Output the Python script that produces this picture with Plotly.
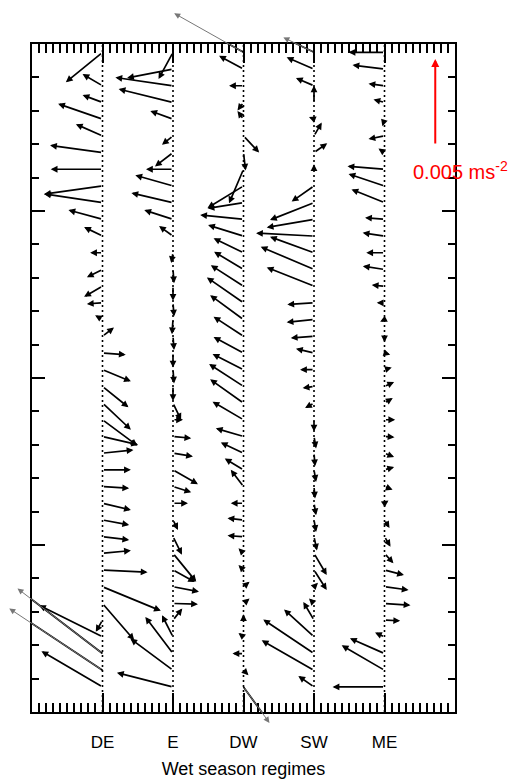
import plotly.graph_objects as go

# ---------------- data ----------------
regimes = ["DE", "E", "DW", "SW", "ME"]
# vertical levels (axis units, top level first)
levels = [39.5, 38.5, 37.5, 36.5, 35.5, 34.5, 33.5, 32.5, 31.5, 30.5,
          29.5, 28.5, 27.5, 26.5, 25.5, 24.5, 23.5, 22.5, 21.5, 20.5,
          19.5, 18.5, 17.5, 16.5, 15.5, 14.5, 13.5, 12.5, 11.5, 10.5,
          9.5, 8.5, 7.5, 6.5, 5.5, 4.5, 3.5, 2.5, 1.5, 0.5]

# zonal (u) and meridional (v) components, units 1e-3 m s^-2, top level first
u_DE = [-2.13, 0.0, -1.16, -1.16, -2.58, -1.55, -3.05, -3.01, -3.40, -3.40,
        -1.98, -1.07, -0.72, -0.91, -1.07, -0.91, -0.43, 0.67, 1.35, 1.65,
        1.51, 1.65, 2.03, 2.07, 1.80, 1.65, 1.55, 1.65, 1.55, 1.55,
        1.65, 2.62, 3.39, 1.84, -0.39, -3.69, -4.94, -5.42, -3.55, 0.0]
v_DE = [-1.74, 0.0, 0.68, 0.43, 0.89, 0.68, 0.42, 0.0, -0.48, 0.51,
        0.54, 0.52, 0.0, -0.45, -0.62, -0.06, 0.25, 0.51, -0.10, -0.68,
        -1.22, -1.55, -1.51, -0.48, 0.19, 0.0, -0.10, -0.39, -0.29, -0.19,
        0.16, -0.13, -1.40, -2.13, -0.68, 1.84, 3.78, 3.59, 2.08, 0.0]

u_E = [-0.84, -2.67, -3.35, -3.16, -1.32, -0.64, -1.05, -1.57, -2.19, -2.42,
       -1.67, -0.81, -0.10, 0.06, 0.00, 0.06, -0.06, 0.06, 0.00, 0.06,
       0.00, 0.47, 0.58, 1.06, 1.16, 1.45, 1.06, 0.87, 0.29, 0.52,
       1.35, 1.28, 1.51, 1.45, 0.54, -0.64, -1.61, -2.48, -3.26, 0.0]
v_E = [-1.55, -0.52, 0.48, 0.78, 0.48, -0.52, -0.81, 0.0, 0.62, 0.56,
       0.54, 0.58, -0.60, -0.80, -0.85, -0.80, -0.85, -0.80, -0.85, -0.80,
       -0.85, -0.99, 0.0, -0.10, -0.19, -0.83, -0.33, 0.0, -0.58, -1.05,
       -1.65, -0.70, -0.29, -0.04, 0.68, 1.26, 2.13, 1.84, 0.83, 0.0]

u_DW = [-4.03, -1.42, -0.84, -0.35, -0.35, 0.91, 0.12, -0.84, -2.09, -2.09,
        -2.52, -2.06, -1.74, -1.71, -1.90, -2.13, -1.94, -1.74, -1.74, -1.80,
        -2.00, -1.94, -1.80, -1.61, -1.32, -1.09, -0.74, -0.74, -0.93, -0.93,
        -0.29, -0.29, 0.35, 0.35, 0.0, -0.29, -0.64, 0.29, 1.51, 0.0]
v_DW = [2.27, 0.77, 0.0, -0.47, 0.47, -0.97, -1.05, -1.98, -1.28, -0.33,
        0.26, 0.64, 0.84, 1.03, 1.22, 1.48, 1.42, 1.14, 0.93, 0.91,
        1.30, 1.38, 1.05, 0.47, 0.62, 0.66, 0.97, 0.0, 0.10, 0.06,
        0.29, 0.29, 0.29, 0.29, 0.35, 0.23, 0.0, -0.29, -2.09, 0.0]

u_SW = [-1.78, -1.59, -1.05, 0.0, -0.29, 0.45, 0.77, 0.0, -1.30, -2.56,
        -2.75, -3.37, -2.56, -3.10, -2.75, -1.55, -1.59, -1.35, -1.05, -0.81,
        -0.66, -0.52, 0.0, 0.12, 0.06, 0.12, 0.06, 0.12, 0.12, 0.17,
        0.74, 0.74, 0.23, -0.29, -0.62, -1.74, -2.95, -3.04, -0.91, 0.0]
v_SW = [0.87, 0.68, 0.45, 0.99, 0.12, 0.77, 0.54, 0.29, -0.91, -1.01,
        -0.47, 0.17, 0.93, 1.32, 1.09, -0.10, -0.16, -0.10, 0.25, 0.0,
        -0.10, -0.29, -0.68, -0.70, -0.76, -0.70, -0.70, -0.70, -0.70, -0.81,
        -1.26, -1.16, 0.23, 0.29, 1.06, 1.59, 1.98, 1.74, 0.64, 0.0]

u_ME = [-2.09, -1.86, -0.93, -0.64, -0.12, -0.93, -0.35, -2.15, -2.09, -1.92,
        -1.13, -1.27, -1.06, -1.26, -0.74, -0.45, -0.25, 0.0, 0.33, 0.42,
        0.56, 0.48, 0.62, 0.58, 0.56, 0.56, 0.47, 0.23, 0.29, 0.35,
        0.52, 1.13, 1.40, 1.51, 0.91, -0.55, -2.01, -2.49, -3.02, 0.0]
v_ME = [0.0, 0.23, 0.12, 0.17, -0.41, -0.19, 0.23, 0.17, 0.70, 0.77,
        0.10, 0.19, 0.0, 0.19, 0.06, 0.0, -0.13, -0.35, -0.10, 0.13,
        0.25, 0.29, 0.0, -0.04, -0.23, 0.16, -0.19, 0.16, -0.47, -0.58,
        -0.58, -0.29, -0.19, -0.10, -0.04, 0.25, 0.89, 1.45, 0.0, 0.0]

ref_value = 5.0          # reference vector, 1e-3 m s^-2 (= 0.005 m s^-2)
ref_pos = (5.72, 33.95)  # tail of reference arrow (axis units)

# ---------------- layout geometry ----------------
W, H = 525, 780
ML, MR, MT, MB = 32, 70, 44, 68
XMAX, YMAX = 6, 40
px_x = (W - ML - MR) / XMAX
px_y = (H - MT - MB) / YMAX
REF_PX = 86.0                       # pixel length of reference vector
sx = REF_PX / ref_value / px_x      # axis-x units per 1e-3 m s^-2
sy = REF_PX / ref_value / px_y

U = [u_DE, u_E, u_DW, u_SW, u_ME]
V = [v_DE, v_E, v_DW, v_SW, v_ME]

fig = go.Figure()

# dotted regime lines
for i, name in enumerate(regimes):
    fig.add_trace(go.Scatter(x=[i + 1, i + 1], y=[0, YMAX], mode="lines",
                             line=dict(color="black", width=1.6, dash="2px,3px"),
                             showlegend=False, hoverinfo="skip"))

annotations = []
shapes = []
for i in range(len(regimes)):
    x0 = i + 1
    for k, y0 in enumerate(levels):
        u, v = U[i][k], V[i][k]
        if abs(u) < 1e-6 and abs(v) < 1e-6:
            continue
        x1 = x0 + u * sx
        y1 = y0 + v * sy
        outside = not (0 <= x1 <= XMAX and 0 <= y1 <= YMAX)
        if outside:
            annotations.append(dict(x=x1, y=y1, ax=x0, ay=y0, xref="x", yref="y",
                                    axref="x", ayref="y", showarrow=True, text="",
                                    arrowhead=2, arrowsize=1.2, arrowwidth=1.0,
                                    arrowcolor="#777777", standoff=0, startstandoff=0))
            shapes.append(dict(type="line", xref="x", yref="y", x0=x0, y0=y0,
                               x1=x1, y1=y1, line=dict(color="black", width=1.7)))
        else:
            annotations.append(dict(x=x1, y=y1, ax=x0, ay=y0, xref="x", yref="y",
                                    axref="x", ayref="y", showarrow=True, text="",
                                    arrowhead=2, arrowsize=0.8, arrowwidth=1.7,
                                    arrowcolor="black", standoff=0, startstandoff=0))

# reference vector
annotations.append(dict(x=ref_pos[0], y=ref_pos[1] + ref_value * sy,
                        ax=ref_pos[0], ay=ref_pos[1], xref="x", yref="y",
                        axref="x", ayref="y", showarrow=True, text="",
                        arrowhead=2, arrowsize=0.8, arrowwidth=2,
                        arrowcolor="red", standoff=0, startstandoff=0))
annotations.append(dict(x=1.014, y=0.81, xref="paper", yref="paper",
                        text="0.005 ms<sup>-2</sup>", showarrow=False,
                        xanchor="center", yanchor="middle",
                        font=dict(color="red", size=20, family="Liberation Sans, Arial")))

fig.update_layout(
    width=W, height=H, autosize=False,
    margin=dict(l=ML, r=MR, t=MT, b=MB, pad=0, autoexpand=False),
    paper_bgcolor="white", plot_bgcolor="white",
    annotations=annotations, shapes=shapes,
    font=dict(family="Liberation Sans, Arial", color="black"),
    xaxis=dict(range=[0, XMAX], showgrid=False, zeroline=False, automargin=False,
               showline=True, linecolor="black", linewidth=2, mirror="ticks",
               tickmode="array", tickvals=[1, 2, 3, 4, 5], ticktext=regimes,
               ticks="inside", ticklen=19, tickwidth=1.5, tickcolor="black",
               tickfont=dict(size=17), ticklabelstandoff=14,
               minor=dict(dtick=0.1, tick0=0, ticks="inside", ticklen=9,
                          tickwidth=1.5, tickcolor="black", showgrid=False),
               title=dict(text="Wet season regimes", font=dict(size=18), standoff=11)),
    yaxis=dict(range=[0, YMAX], showgrid=False, zeroline=False, automargin=False,
               showline=True, linecolor="black", linewidth=2, mirror="ticks",
               tickmode="linear", tick0=0, dtick=10, showticklabels=False,
               ticks="inside", ticklen=13, tickwidth=1.5, tickcolor="black",
               minor=dict(dtick=2, tick0=0, ticks="inside", ticklen=7,
                          tickwidth=1.5, tickcolor="black", showgrid=False)),
)

fig.write_html("out.html")
